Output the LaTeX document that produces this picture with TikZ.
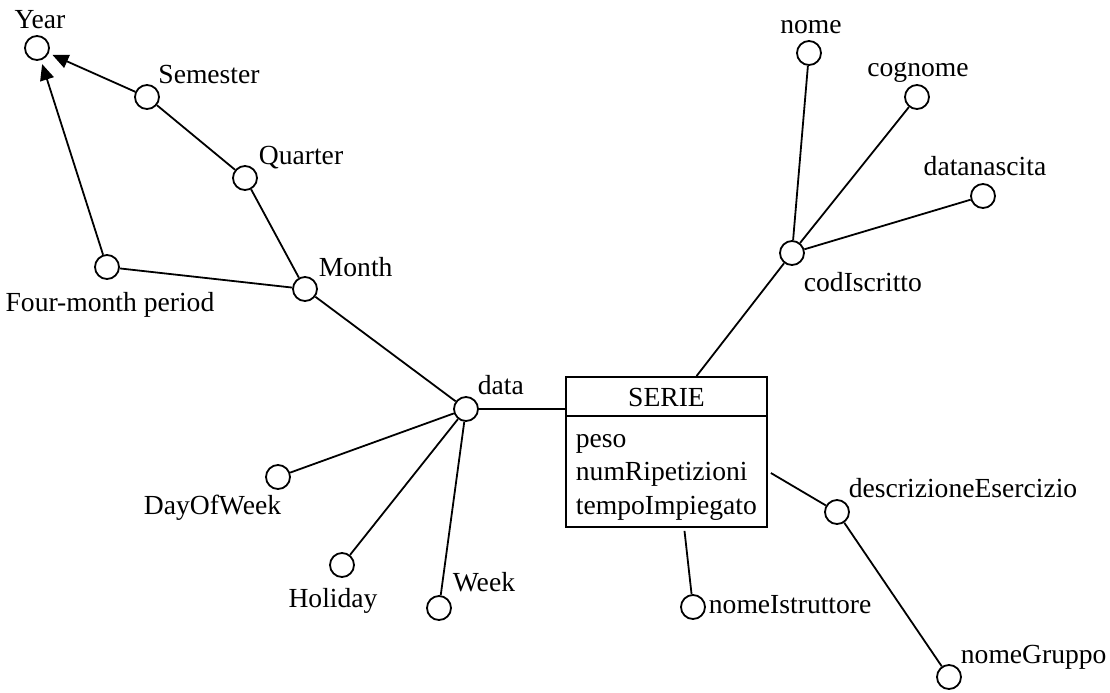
\documentclass[tikz,border=0pt]{standalone}
\usepackage{fontspec}
\setmainfont{Liberation Serif}
\usetikzlibrary{arrows.meta}

\begin{document}
\begin{tikzpicture}[x=0.5pt,y=-0.5pt,line width=0.9pt,
  font=\fontsize{13.8pt}{16pt}\selectfont,
  attr/.style={circle,draw,minimum size=12pt,inner sep=0pt},
  lbl/.style={inner sep=0pt,anchor=base},
  lblw/.style={inner sep=0pt,anchor=base west},
  hier/.style={-{Triangle[length=8pt,width=7pt]},shorten >=2pt}]
\useasboundingbox (0,0) rectangle (1110,692);
% fact table
\node[draw,minimum width=100.5pt,minimum height=75pt,inner sep=0pt] (serie) at (666.5,452) {};
\draw ([yshift=-20pt]serie.north west) -- ([yshift=-20pt]serie.north east);
\node (title) at (666.5,397) {SERIE};
\node[lblw] (peso) at (575,447) {peso};
\node[lblw] (numrip) at (575,480) {numRipetizioni};
\node[lblw] (tempo) at (575,514) {tempoImpiegato};
% time hierarchy
\node[attr] (year) at (37,48) {};
\node[lbl] (yearlbl) at (40,28) {Year};
\node[attr] (semester) at (147,97) {};
\node[lbl] (semesterlbl) at (209,83) {Semester};
\node[attr] (quarter) at (245,178) {};
\node[lblw] (quarterlbl) at (258,164) {Quarter};
\node[attr] (fourmonth) at (107,267) {};
\node[lbl] (fourmonthlbl) at (110,311) {Four-month period};
\node[attr] (month) at (305,289) {};
\node[lblw] (monthlbl) at (318,276) {Month};
\node[attr] (data) at (466,409) {};
\node[lblw] (datalbl) at (477,394) {data};
\node[attr] (dayofweek) at (278,477) {};
\node[lbl,anchor=base east] (dayofweeklbl) at (282,514) {DayOfWeek};
\node[attr] (holiday) at (342,565) {};
\node[lbl] (holidaylbl) at (333,607) {Holiday};
\node[attr] (week) at (439,608) {};
\node[lblw] (weeklbl) at (452,591) {Week};
% subscriber
\node[attr] (codiscritto) at (792,253) {};
\node[lblw] (codiscrittolbl) at (803,291) {codIscritto};
\node[attr] (nome) at (809,53) {};
\node[lbl] (nomelbl) at (811,33) {nome};
\node[attr] (cognome) at (917,97) {};
\node[lbl] (cognomelbl) at (918,76) {cognome};
\node[attr] (datanascita) at (983,196) {};
\node[lbl] (datanascitalbl) at (985,175) {datanascita};
% exercise
\node[attr] (descrizione) at (837,512) {};
\node[lblw] (descrizionelbl) at (848,497) {descrizioneEsercizio};
\node[attr] (nomegruppo) at (949,677) {};
\node[lblw] (nomegruppolbl) at (960,663) {nomeGruppo};
\node[attr] (nomeistr) at (693,607) {};
\node[lblw] (nomeistrlbl) at (708,613) {nomeIstruttore};

\draw[hier] (semester) -- (year);
\draw[hier] (fourmonth) -- (year);
\draw (quarter) -- (semester);
\draw (month) -- (quarter);
\draw (month) -- (fourmonth);
\draw (data) -- (month);
\draw (data) -- (dayofweek);
\draw (data) -- (holiday);
\draw (data) -- (week);
\draw (data) -- (data -| serie.west);
\draw (codiscritto) -- ([xshift=15pt]serie.north);
\draw (codiscritto) -- (nome);
\draw (codiscritto) -- (cognome);
\draw (codiscritto) -- (datanascita);
\draw (descrizione) -- ([xshift=1.5pt,yshift=-10.5pt]serie.east);
\draw (descrizione) -- (nomegruppo);
\draw (nomeistr) -- ([xshift=9pt,yshift=-1.5pt]serie.south);
\end{tikzpicture}
\end{document}
